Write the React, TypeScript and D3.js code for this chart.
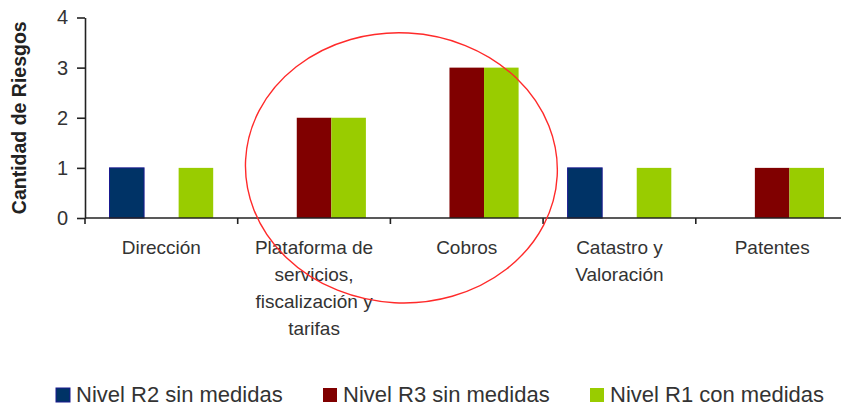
import React, { useEffect, useRef } from "react";
import * as d3 from "d3";

const categories = [
  "Dirección",
  "Plataforma de servicios, fiscalización y tarifas",
  "Cobros",
  "Catastro y Valoración",
  "Patentes",
];

// label lines as they wrap in the original
const categoryLines = [
  ["Dirección"],
  ["Plataforma de", "servicios,", "fiscalización y", "tarifas"],
  ["Cobros"],
  ["Catastro y", "Valoración"],
  ["Patentes"],
];

const seriesNames = ["Nivel R2 sin medidas", "Nivel R3 sin medidas", "Nivel R1 con medidas"];
const seriesColors = ["#003366", "#800000", "#99cc00"];

const r2SinMedidas = [1, 0, 0, 1, 0];
const r3SinMedidas = [0, 2, 3, 0, 1];
const r1ConMedidas = [1, 2, 3, 1, 1];

const yTicks = [0, 1, 2, 3, 4];

const FONT = "'Liberation Sans', Arial, sans-serif";

const App = () => {
  const ref = useRef<SVGSVGElement | null>(null);

  useEffect(() => {
    const svg = d3.select(ref.current);
    svg.selectAll("*").remove();

    const width = 841;
    const left = 85;
    const top = 17.5;
    const bottom = 218;

    const x = d3.scaleBand<string>().domain(categories).range([left, left + 5 * 152.7]);
    const inner = d3
      .scaleBand<string>()
      .domain(seriesNames)
      .range([24.5, x.bandwidth() - 24.5]);
    const y = d3.scaleLinear().domain([0, 4]).range([bottom, top]);

    const allSeries = [r2SinMedidas, r3SinMedidas, r1ConMedidas];

    // bars
    const groups = svg
      .append("g")
      .selectAll("g")
      .data(categories)
      .join("g")
      .attr("transform", (d) => `translate(${x(d)},0)`);

    groups
      .selectAll("rect")
      .data((_, i) =>
        seriesNames.map((name, s) => ({ name, s, value: allSeries[s][i] }))
      )
      .join("rect")
      .filter((d) => d.value > 0)
      .attr("x", (d) => inner(d.name)!)
      .attr("width", inner.bandwidth())
      .attr("y", (d) => y(d.value))
      .attr("height", (d) => y(0) - y(d.value))
      .attr("fill", (d) => seriesColors[d.s])
      .attr("stroke", (d) => (d.s === 0 ? "#1a1a90" : "none"))
      .attr("stroke-width", 1);

    // y axis
    const yAxis = svg
      .append("g")
      .attr("transform", `translate(${left},0)`)
      .call(
        d3
          .axisLeft(y)
          .tickValues(yTicks)
          .tickFormat(d3.format("d"))
          .tickSize(8)
          .tickSizeOuter(0)
          .tickPadding(9)
      );
    yAxis.select(".domain").attr("stroke", "#222").attr("stroke-width", 1.6);
    yAxis.selectAll(".tick line").attr("stroke", "#222").attr("stroke-width", 1.6);
    yAxis
      .selectAll(".tick text")
      .attr("fill", "#333")
      .attr("font-family", FONT)
      .attr("font-size", 20);

    // x axis line and boundary ticks
    const xa = svg.append("g");
    xa.append("line")
      .attr("x1", left)
      .attr("x2", width)
      .attr("y1", y(0))
      .attr("y2", y(0))
      .attr("stroke", "#222")
      .attr("stroke-width", 1.6);
    xa.selectAll("line.tick")
      .data(categories)
      .join("line")
      .attr("class", "tick")
      .attr("x1", (d) => x(d)!)
      .attr("x2", (d) => x(d)!)
      .attr("y1", y(0))
      .attr("y2", y(0) + 6)
      .attr("stroke", "#222")
      .attr("stroke-width", 1.6);

    // category labels
    svg
      .append("g")
      .selectAll("text")
      .data(categories)
      .join("text")
      .attr("x", (d) => x(d)! + x.bandwidth() / 2)
      .attr("y", 254)
      .attr("text-anchor", "middle")
      .attr("fill", "#333")
      .attr("font-family", FONT)
      .attr("font-size", 19)
      .selectAll("tspan")
      .data((_, i) => categoryLines[i])
      .join("tspan")
      .attr("x", function () {
        return (this.parentNode as SVGTextElement).getAttribute("x");
      })
      .attr("dy", (_, j) => (j === 0 ? 0 : 27))
      .text((d) => d);

    // y axis title
    svg
      .append("text")
      .attr("transform", `translate(26,${(top + bottom) / 2}) rotate(-90)`)
      .attr("text-anchor", "middle")
      .attr("fill", "#222")
      .attr("font-family", FONT)
      .attr("font-weight", "bold")
      .attr("font-size", 19.5)
      .text("Cantidad de Riesgos");

    // red hand-drawn ellipse annotation
    svg
      .append("ellipse")
      .attr("cx", x("Cobros")! + 11)
      .attr("cy", y(1))
      .attr("rx", 156)
      .attr("ry", 135)
      .attr("transform", `rotate(3,${x("Cobros")! + 11},${y(1)})`)
      .attr("fill", "none")
      .attr("stroke", "#ff2a2a")
      .attr("stroke-width", 1.4);

    // legend
    const legendX = [56, 323, 590];
    const legend = svg
      .append("g")
      .selectAll("g")
      .data(seriesNames)
      .join("g")
      .attr("transform", (_, i) => `translate(${legendX[i]},388)`);
    legend
      .append("rect")
      .attr("width", 14)
      .attr("height", 14)
      .attr("fill", (_, i) => seriesColors[i])
      .attr("stroke", (_, i) => (i === 0 ? "#1a1a90" : "none"));
    legend
      .append("text")
      .attr("x", 20)
      .attr("y", 14)
      .attr("fill", "#333")
      .attr("font-family", FONT)
      .attr("font-size", 22)
      .text((d) => d);
  }, []);

  return (
    <svg
      ref={ref}
      width="841"
      height="409"
      style={{ position: "absolute", left: 0, top: 0, background: "#fff" }}
    ></svg>
  );
};

export default App;
